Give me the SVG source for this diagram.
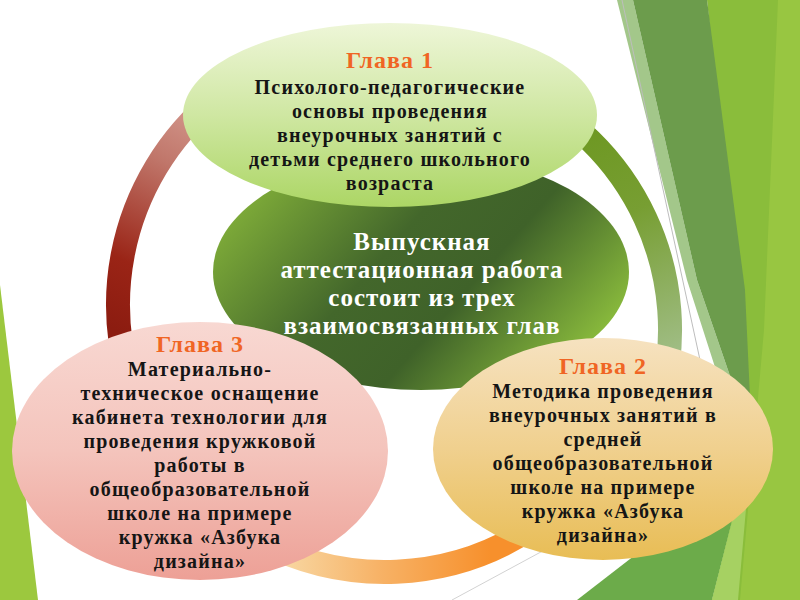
<svg xmlns="http://www.w3.org/2000/svg" width="800" height="600" viewBox="0 0 800 600">
<defs>
<style>
.t{font-family:"Liberation Serif","Times New Roman",serif;font-weight:bold;text-anchor:middle}
.h{font-size:24px;fill:#f06524;letter-spacing:1px}
.b{font-size:20px;fill:#151515;letter-spacing:1.2px}
.w{font-size:25px;fill:#ffffff;letter-spacing:1px}
.arc{fill:none;stroke-width:24}
</style>
<linearGradient id="gRed" gradientUnits="userSpaceOnUse" x1="230" y1="90" x2="115" y2="330">
<stop offset="0" stop-color="#dca79c"/><stop offset="0.35" stop-color="#c0766a"/><stop offset="0.75" stop-color="#9a2416"/><stop offset="1" stop-color="#8c1c10"/>
</linearGradient>
<linearGradient id="gGreen" gradientUnits="userSpaceOnUse" x1="560" y1="110" x2="670" y2="390">
<stop offset="0" stop-color="#6b961e"/><stop offset="0.4" stop-color="#779e32"/><stop offset="1" stop-color="#a9c497"/>
</linearGradient>
<linearGradient id="gOrange" gradientUnits="userSpaceOnUse" x1="270" y1="0" x2="490" y2="0">
<stop offset="0" stop-color="#f8dcaa"/><stop offset="0.5" stop-color="#f7b266"/><stop offset="1" stop-color="#f7902c"/>
</linearGradient>
<linearGradient id="gTop" x1="0" y1="0" x2="0" y2="1">
<stop offset="0" stop-color="#eef6d8"/><stop offset="0.5" stop-color="#cfe7a2"/><stop offset="1" stop-color="#acd665"/>
</linearGradient>
<linearGradient id="gMid" x1="0" y1="0.25" x2="1" y2="0.75">
<stop offset="0" stop-color="#84b23a"/><stop offset="0.4" stop-color="#43672b"/><stop offset="0.62" stop-color="#3f6229"/><stop offset="1" stop-color="#93c63f"/>
</linearGradient>
<linearGradient id="gPink" x1="0" y1="0" x2="0" y2="1">
<stop offset="0" stop-color="#f8d8d2"/><stop offset="0.5" stop-color="#f4c4bc"/><stop offset="1" stop-color="#eda096"/>
</linearGradient>
<linearGradient id="gGold" x1="0" y1="0" x2="0" y2="1">
<stop offset="0" stop-color="#f6e2c0"/><stop offset="0.5" stop-color="#f0d08e"/><stop offset="1" stop-color="#e8bd55"/>
</linearGradient>
</defs>
<rect width="800" height="600" fill="#ffffff"/>
<g id="background">
<polygon points="0,285 0,600 38,600" fill="#9cc83e"/>
<polygon points="707,0 800,0 800,600 712,600 752,440" fill="#8abd3b"/>
<polygon points="778,0 800,0 800,600 740,600 764,330" fill="#98c641"/>
<polygon points="617,0 633,0 697,280 752,440 740,445 687,280" fill="#a3c78a"/>
<polygon points="633,0 707,0 745,290 752,440 697,280" fill="#6c9c4c"/>
<polygon points="577,600 712,600 745,470" fill="#6cab4a"/>
<polygon points="712,600 745,470 752,440 738,600" fill="#a6d162"/>
<line x1="622" y1="0" x2="700" y2="360" stroke="#bdbdbd" stroke-width="1"/>
<line x1="452" y1="600" x2="600" y2="520" stroke="#d2d2d2" stroke-width="1"/>
</g>
<g id="connectors">
<path class="arc" stroke="url(#gRed)" d="M 293.7 54 A 267 267 0 0 0 120.6 342.2"/>
<path class="arc" stroke="url(#gOrange)" d="M 251.5 536.2 A 267 267 0 0 0 538.1 523.7"/>
<path class="arc" stroke="url(#gGreen)" d="M 517 89.8 A 265 265 0 0 1 661 398.6"/>
</g>
<g id="node-center">
<ellipse cx="421" cy="272" rx="208" ry="118" fill="url(#gMid)"/>
<text class="t w" x="422" y="250">Выпускная</text>
<text class="t w" x="422" y="278">аттестационная работа</text>
<text class="t w" x="422" y="306">состоит из трех</text>
<text class="t w" x="422" y="334">взаимосвязанных глав</text>
</g>
<g id="node-ch1">
<ellipse cx="390" cy="115" rx="207" ry="92" fill="url(#gTop)"/>
<text class="t h" x="390" y="68">Глава 1</text>
<text class="t b" x="390" y="94">Психолого-педагогические</text>
<text class="t b" x="390" y="118">основы проведения</text>
<text class="t b" x="390" y="142">внеурочных занятий с</text>
<text class="t b" x="390" y="166">детьми среднего школьного</text>
<text class="t b" x="390" y="190">возраста</text>
</g>
<g id="node-ch3">
<ellipse cx="200" cy="451" rx="188" ry="129" fill="url(#gPink)"/>
<text class="t h" x="200" y="352">Глава 3</text>
<text class="t b" x="200" y="376">Материально-</text>
<text class="t b" x="200" y="400">техническое оснащение</text>
<text class="t b" x="200" y="424">кабинета технологии для</text>
<text class="t b" x="200" y="448">проведения кружковой</text>
<text class="t b" x="200" y="472">работы в</text>
<text class="t b" x="200" y="496">общеобразовательной</text>
<text class="t b" x="200" y="520">школе на примере</text>
<text class="t b" x="200" y="544">кружка «Азбука</text>
<text class="t b" x="200" y="568">дизайна»</text>
</g>
<g id="node-ch2">
<ellipse cx="603" cy="449" rx="170" ry="111" fill="url(#gGold)"/>
<text class="t h" x="603" y="374">Глава 2</text>
<text class="t b" x="603" y="398">Методика проведения</text>
<text class="t b" x="603" y="422">внеурочных занятий в</text>
<text class="t b" x="603" y="446">средней</text>
<text class="t b" x="603" y="470">общеобразовательной</text>
<text class="t b" x="603" y="494">школе на примере</text>
<text class="t b" x="603" y="518">кружка «Азбука</text>
<text class="t b" x="603" y="542">дизайна»</text>
</g>
</svg>
